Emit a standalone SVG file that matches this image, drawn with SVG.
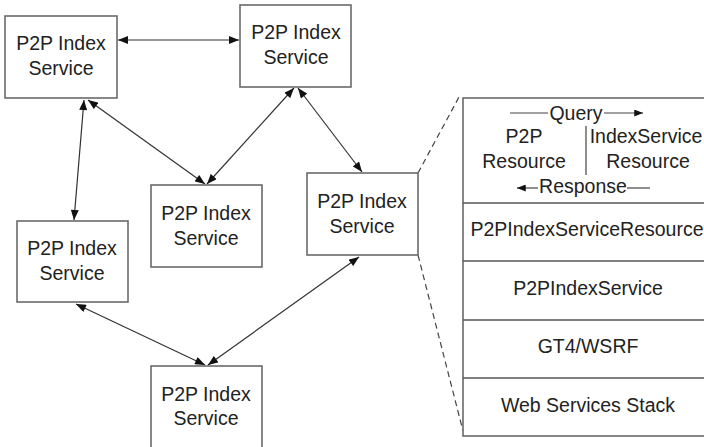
<svg xmlns="http://www.w3.org/2000/svg" width="704" height="447" viewBox="0 0 704 447">
  <style>
    .box { fill: #ffffff; stroke: #6a6a6a; stroke-width: 1.6; }
    .lbl { font-family: "Liberation Sans", Arial, sans-serif; font-size: 19.5px; fill: #222222; text-anchor: middle; }
    .edge { stroke: #333333; stroke-width: 1.2; fill: none; marker-start: url(#arr); marker-end: url(#arr); }
    .dash { stroke: #444444; stroke-width: 1.2; stroke-dasharray: 6 4; fill: none; }
    .rule { stroke: #555555; stroke-width: 1.4; fill: none; }
    .thin { stroke: #444444; stroke-width: 1.2; fill: none; }
  </style>
  <defs>
    <marker id="arr" viewBox="0 0 10 8" refX="10" refY="4" markerWidth="11" markerHeight="8" markerUnits="userSpaceOnUse" orient="auto-start-reverse">
      <path d="M0,0 L10,4 L0,8 Z" fill="#111111"/>
    </marker>
    <marker id="tip" viewBox="0 0 10 8" refX="10" refY="4" markerWidth="10" markerHeight="7" markerUnits="userSpaceOnUse" orient="auto">
      <path d="M0,0 L10,4 L0,8 Z" fill="#111111"/>
    </marker>
  </defs>

  <rect width="704" height="447" fill="#ffffff"/>

  <!-- peer-to-peer links between index services -->
  <g id="connectors">
    <line class="edge" x1="118" y1="40" x2="239" y2="40"/>
    <line class="edge" x1="84" y1="100" x2="74" y2="220"/>
    <line class="edge" x1="88" y1="100" x2="205" y2="184"/>
    <line class="edge" x1="294" y1="88" x2="207" y2="184"/>
    <line class="edge" x1="298" y1="88" x2="362" y2="172"/>
    <line class="edge" x1="76" y1="304" x2="205" y2="365"/>
    <line class="edge" x1="359" y1="257" x2="208" y2="365"/>
    <!-- zoom-out guides from the right node to its stack -->
    <line class="dash" x1="418" y1="173" x2="459" y2="97"/>
    <line class="dash" x1="418" y1="255" x2="463" y2="431"/>
  </g>

  <g id="nodeA">
    <rect class="box" x="5" y="16" width="112" height="82"/>
    <text class="lbl" x="61" y="50">P2P Index</text>
    <text class="lbl" x="61" y="75">Service</text>
  </g>
  <g id="nodeB">
    <rect class="box" x="240" y="5" width="111" height="82"/>
    <text class="lbl" x="296" y="39">P2P Index</text>
    <text class="lbl" x="296" y="64">Service</text>
  </g>
  <g id="nodeC">
    <rect class="box" x="151" y="185" width="111" height="82"/>
    <text class="lbl" x="206" y="220">P2P Index</text>
    <text class="lbl" x="206" y="245">Service</text>
  </g>
  <g id="nodeD">
    <rect class="box" x="17" y="221" width="111" height="81"/>
    <text class="lbl" x="72" y="255">P2P Index</text>
    <text class="lbl" x="72" y="280">Service</text>
  </g>
  <g id="nodeE">
    <rect class="box" x="151" y="366" width="111" height="90"/>
    <text class="lbl" x="206" y="401">P2P Index</text>
    <text class="lbl" x="206" y="425">Service</text>
  </g>
  <g id="nodeF">
    <rect class="box" x="307" y="173" width="111" height="82"/>
    <text class="lbl" x="362" y="208">P2P Index</text>
    <text class="lbl" x="362" y="233">Service</text>
  </g>

  <!-- layered stack of a single index service -->
  <g id="stack">
    <rect class="box" x="463" y="98" width="250" height="338"/>
    <line class="rule" x1="463" y1="203" x2="710" y2="203"/>
    <line class="rule" x1="463" y1="261" x2="710" y2="261"/>
    <line class="rule" x1="463" y1="320" x2="710" y2="320"/>
    <line class="rule" x1="463" y1="378" x2="710" y2="378"/>

    <!-- query / response exchange between resources -->
    <line class="thin" x1="510" y1="113" x2="548" y2="113"/>
    <text class="lbl" x="576" y="120">Query</text>
    <line class="thin" x1="604" y1="113" x2="643" y2="113" marker-end="url(#tip)"/>
    <text class="lbl" x="524" y="143">P2P</text>
    <text class="lbl" x="524" y="168">Resource</text>
    <line class="thin" x1="586" y1="126" x2="586" y2="175"/>
    <text class="lbl" x="646" y="143">IndexService</text>
    <text class="lbl" x="648" y="168">Resource</text>
    <line class="thin" x1="538" y1="188" x2="517" y2="188" marker-end="url(#tip)"/>
    <text class="lbl" x="583" y="193">Response</text>
    <line class="thin" x1="627" y1="188" x2="650" y2="188"/>

    <text class="lbl" x="587" y="236">P2PIndexServiceResource</text>
    <text class="lbl" x="588" y="295">P2PIndexService</text>
    <text class="lbl" x="588" y="353">GT4/WSRF</text>
    <text class="lbl" x="588" y="412">Web Services Stack</text>
  </g>
</svg>
